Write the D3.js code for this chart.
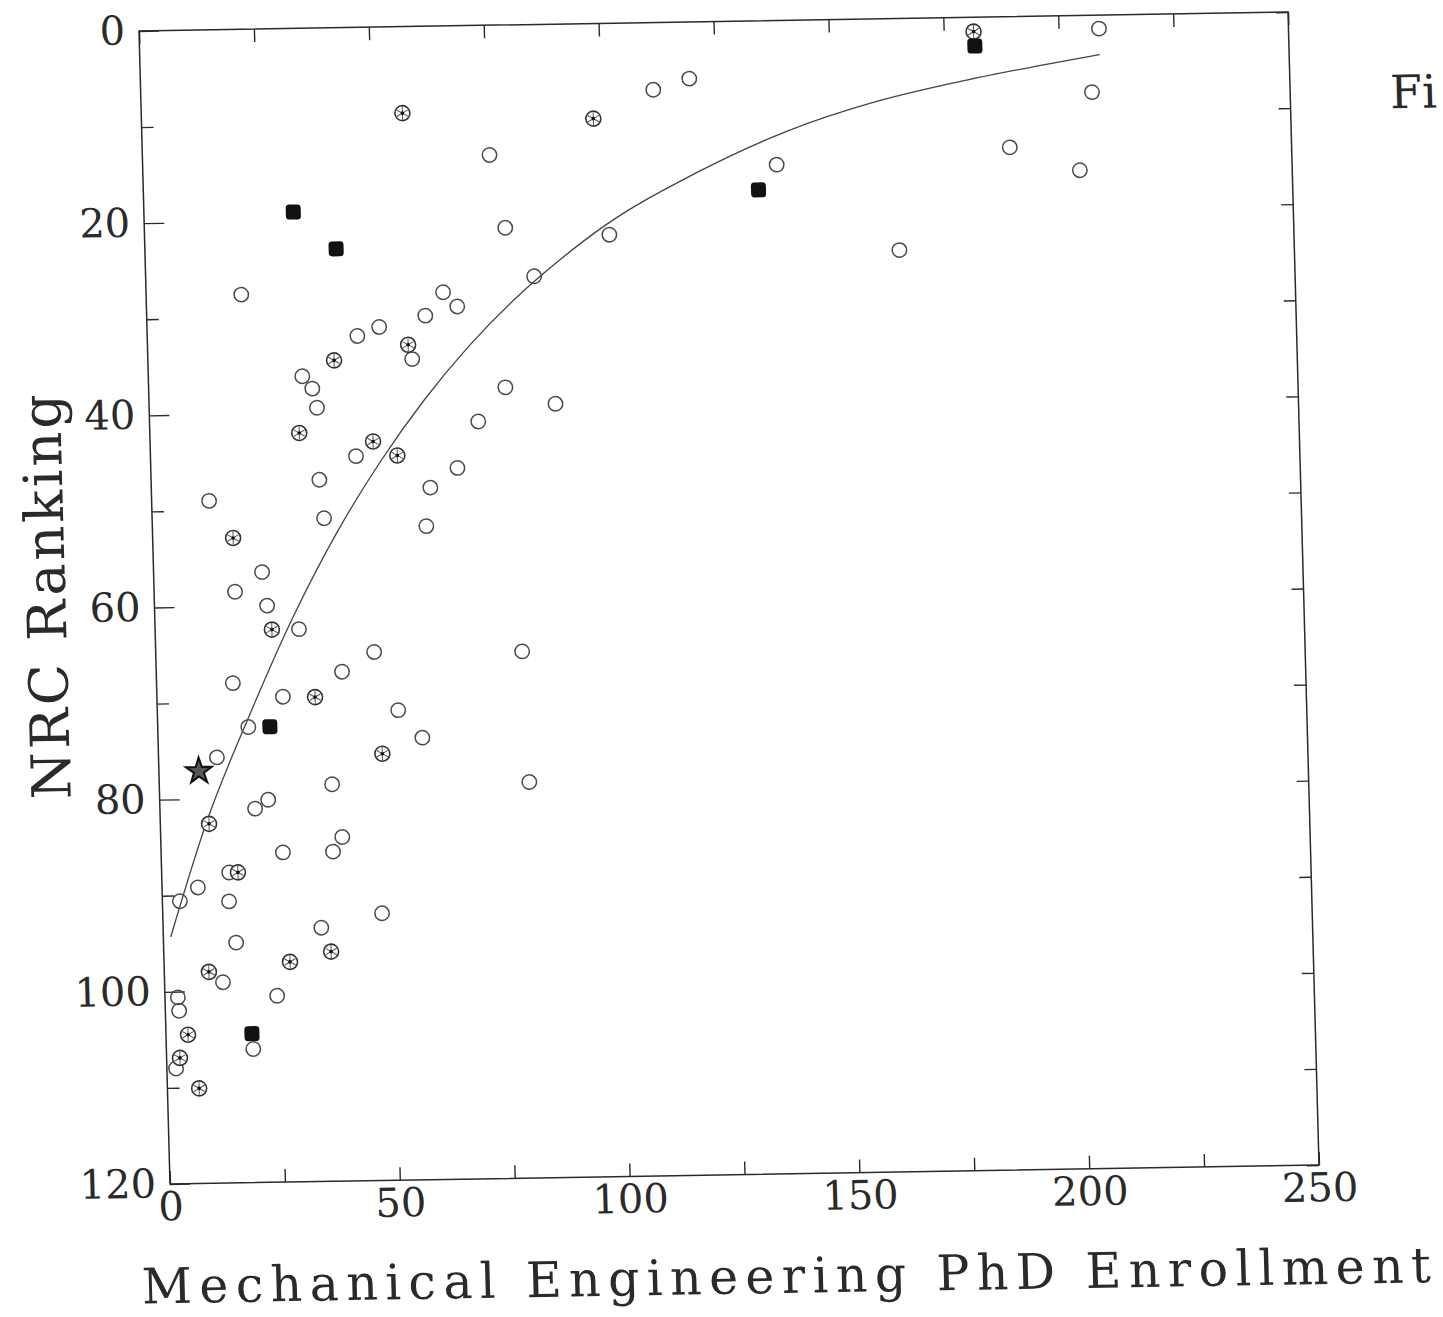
<!DOCTYPE html>
<html><head><meta charset="utf-8">
<script src="https://cdn.jsdelivr.net/npm/d3@7"></script>
<style>body{margin:0;background:#fff}</style>
</head><body><svg id="c" width="1443" height="1317"></svg>
<script>
// ---- data ----
const openX=[208.8,119.4,111.5,206.9,75.5,188.7,137.9,203.8,78.5,101.1,164.1,84.5,20.7,64.6,67.6,60.6,50.5,45.7,57.5,33.5,35.6,36.5,77.6,88.4,71.5,44.7,66.7,36.6,60.7,12.5,37.4,59.6,23.6,17.6,24.5,31.3,47.5,40.4,16.6,27.4,52.4,19.7,57.5,79.7,12.7,37.6,80.5,23.6,20.7,39.5,26.5,37.4,14.7,7.8,14.5,3.8,47.7,34.4,15.8,12.7,24.4,2.8,3.0,18.9,2.0];
const openY=[1.4,5.9,7.0,8.0,13.5,13.6,15.0,16.1,21.1,22.0,24.1,26.2,27.6,27.7,29.2,30.1,31.2,32.1,34.6,36.2,37.5,39.5,37.7,39.5,41.2,44.6,46.0,47.0,48.0,49.0,51.0,52.0,56.5,58.5,60.0,62.5,65.0,67.0,68.0,69.5,71.1,72.6,74.0,65.2,75.7,78.7,78.8,80.2,81.1,84.2,85.7,85.7,87.7,89.2,90.7,90.6,92.2,93.6,95.0,99.1,100.6,100.6,102.0,106.1,108.0];
const asterX=[181.5,56.8,98.3,56.7,40.5,32.5,48.5,53.7,17.5,25.4,34.4,48.7,10.6,16.6,36.4,27.4,9.7,4.8,2.9,6.9];
const asterY=[1.5,9.0,9.9,33.1,34.6,42.1,43.1,44.6,52.9,62.5,69.6,75.6,82.6,87.7,96.1,97.1,98.0,104.5,106.9,110.1];
const squareX=[181.7,133.8,32.5,41.6,24.4,18.7];
const squareY=[3.0,17.6,19.1,23.0,72.6,104.5];
const starX=[8.7];
const starY=[77.1];
const fitX=[1.6,10,20,30,40,50,60,70,80,90,100,120,140,160,180,195,208.8];
const fitY=[94.3,82.5,71.4,61.3,52.6,45.2,38.8,33.3,28.6,24.6,21.1,15.8,11.6,8.6,6.5,5.2,4.1];
const xTicks=[0,25,50,75,100,125,150,175,200,225,250];
const xTickLabels=[0,50,100,150,200,250];
const yMinorTicks=[10,30,50,70,90,110];
const yTickLabels=[0,20,40,60,80,100,120];
const xTitle="Mechanical Engineering PhD Enrollment";
const yTitle="NRC Ranking";

// ---- drawing ----
const W=1150,H=1153;
const FONT="'DejaVu Serif', serif";
const INK="#2a2a2a";
const svg=d3.select('#c');
svg.append('rect').attr('width',1443).attr('height',1317).attr('fill','#fff');
const g=svg.append('g').attr('transform',`matrix(${1149/W},${-19/W},${31/H},${1153/H},139,31)`);
const x=d3.scaleLinear().domain([0,250]).range([0,W]);
const y=d3.scaleLinear().domain([0,120]).range([0,H]);

function style(sel){
  sel.select('.domain').remove();
  sel.selectAll('line').attr('stroke',INK).attr('stroke-width',1.4);
  sel.selectAll('text').attr('fill',INK).attr('font-family',FONT).attr('font-size',40);
}
g.append('g').attr('transform',`translate(0,${H})`)
 .call(d3.axisBottom(x).tickValues(xTicks).tickSizeInner(-13).tickSizeOuter(0).tickPadding(8)
   .tickFormat(d=>xTickLabels.includes(d)?d:''))
 .call(style);
g.append('g').call(d3.axisTop(x).tickValues(xTicks).tickSizeInner(-13).tickSizeOuter(0).tickFormat(''))
 .call(style);
g.append('g').call(d3.axisLeft(y).tickValues(yTickLabels).tickSizeInner(-20).tickSizeOuter(0).tickPadding(14))
 .call(style);
g.append('g').call(d3.axisLeft(y).tickValues(yMinorTicks).tickSizeInner(-12).tickSizeOuter(0).tickFormat(''))
 .call(style);
g.append('g').attr('transform',`translate(${W},0)`)
 .call(d3.axisRight(y).tickValues(yTickLabels.concat(yMinorTicks)).tickSizeInner(-12).tickSizeOuter(0).tickFormat(''))
 .call(style);
g.append('rect').attr('width',W).attr('height',H).attr('fill','none').attr('stroke',INK).attr('stroke-width',1.5);

// fitted curve
const fit=fitX.map((d,i)=>[d,fitY[i]]);
g.append('path').datum(fit)
 .attr('d',d3.line().x(d=>x(d[0])).y(d=>y(d[1])).curve(d3.curveMonotoneX))
 .attr('fill','none').attr('stroke','#444').attr('stroke-width',1.3);

// open circles
g.append('g').selectAll('circle').data(openX.map((d,i)=>[d,openY[i]])).join('circle')
 .attr('cx',d=>x(d[0])).attr('cy',d=>y(d[1])).attr('r',7.2)
 .attr('fill','none').attr('stroke','#4a4a4a').attr('stroke-width',1.5);

// circles with asterisk
const ag=g.append('g').selectAll('g').data(asterX.map((d,i)=>[d,asterY[i]])).join('g')
 .attr('transform',d=>`translate(${x(d[0])},${y(d[1])})`);
ag.append('circle').attr('r',7.5).attr('fill','#fff').attr('stroke','#333').attr('stroke-width',1.6);
[90,30,150].forEach(a=>{
  const r=6.5, t=a*Math.PI/180;
  ag.append('line').attr('x1',-r*Math.cos(t)).attr('y1',-r*Math.sin(t))
    .attr('x2',r*Math.cos(t)).attr('y2',r*Math.sin(t))
    .attr('stroke','#555').attr('stroke-width',1);
});
ag.append('circle').attr('r',1.8).attr('fill','#111');

// filled squares
g.append('g').selectAll('rect').data(squareX.map((d,i)=>[d,squareY[i]])).join('rect')
 .attr('x',d=>x(d[0])-7.5).attr('y',d=>y(d[1])-7.5).attr('width',15).attr('height',15)
 .attr('rx',3.5).attr('fill','#111');

// star
g.append('g').selectAll('path').data(starX.map((d,i)=>[d,starY[i]])).join('path')
 .attr('transform',d=>`translate(${x(d[0])},${y(d[1])})`)
 .attr('d',d3.symbol().type(d3.symbolStar).size(210))
 .attr('fill','#555').attr('stroke','#111').attr('stroke-width',2);

// titles
g.append('text').attr('x',614).attr('y',1272).attr('text-anchor','middle')
 .attr('font-family',FONT).attr('font-size',49).attr('fill',INK)
 .attr('textLength',1290).attr('lengthAdjust','spacing').text(xTitle);
g.append('text').attr('transform','translate(-89,564) rotate(-90)').attr('text-anchor','middle')
 .attr('font-family',FONT).attr('font-size',54).attr('fill',INK)
 .attr('textLength',405).attr('lengthAdjust','spacing').text(yTitle);
g.append('text').attr('x',1250).attr('y',98)
 .attr('font-family',FONT).attr('font-size',46).attr('fill',INK).text('Fi');
</script></body></html>
